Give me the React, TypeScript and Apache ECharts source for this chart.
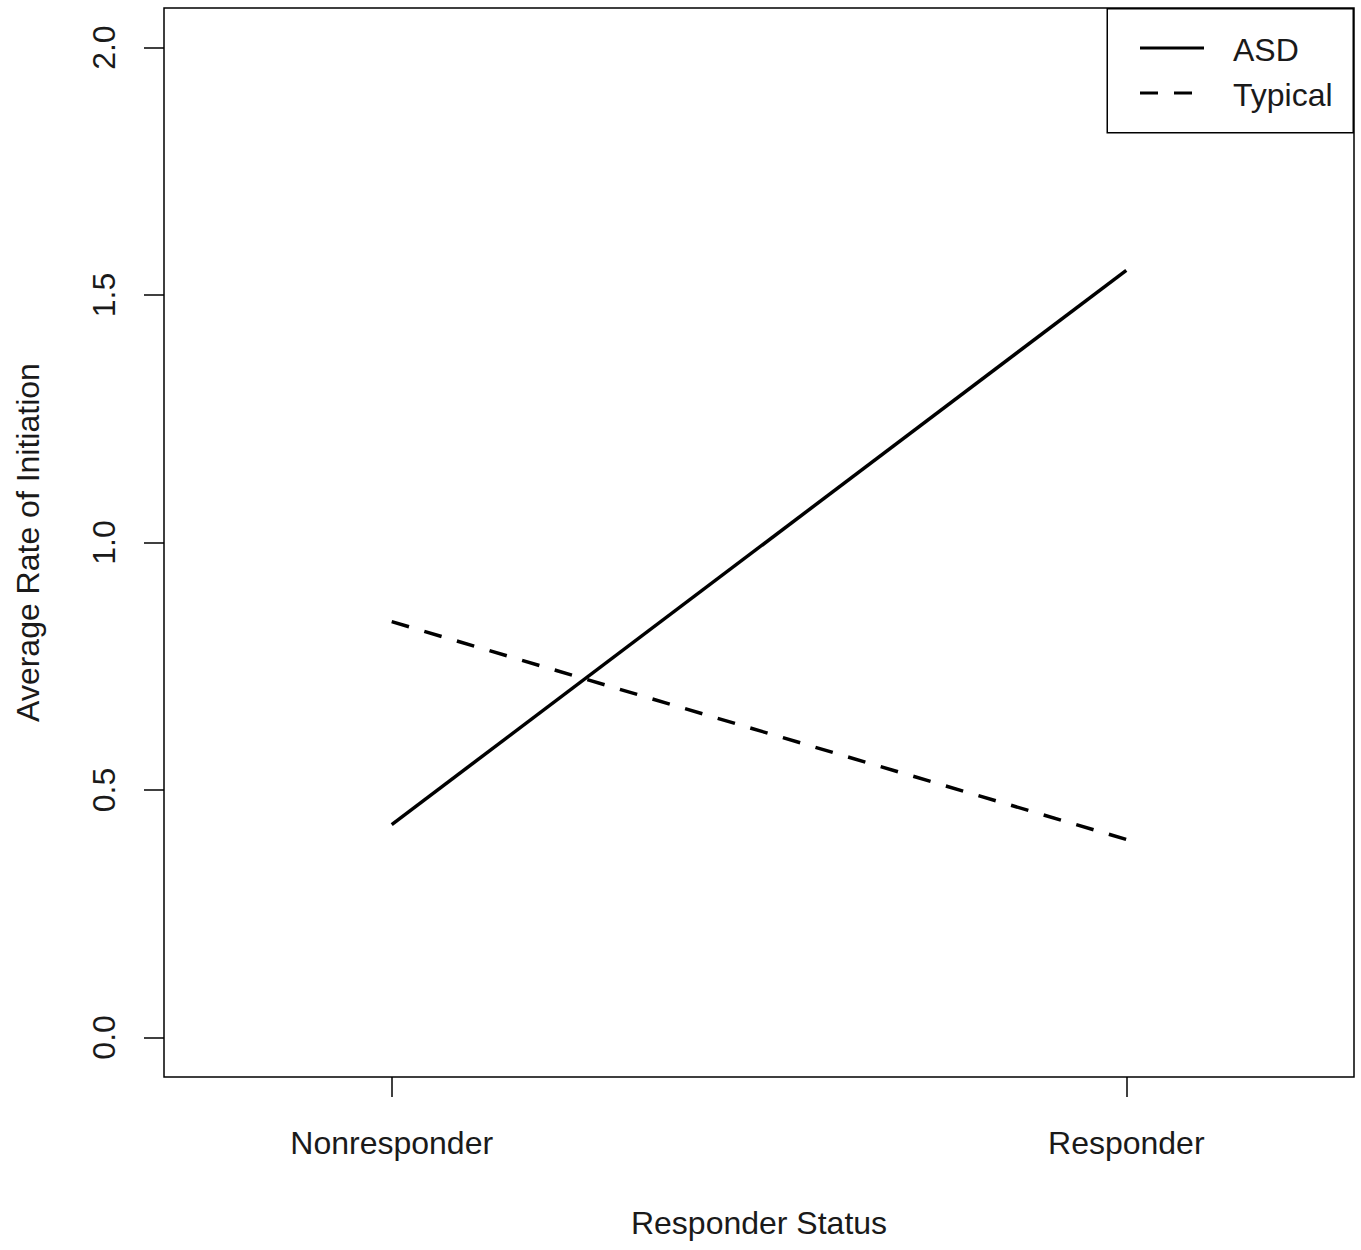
import React, { useEffect, useRef } from "react";
import * as echarts from "echarts";

const categories = ["Nonresponder", "Responder"];
const categoryPositions = [1, 2];
const asdValues = [0.43, 1.55];
const typicalValues = [0.84, 0.4];
const yTicks = [0, 0.5, 1, 1.5, 2];
const seriesNames = ["ASD", "Typical"];

const FONT = "'Liberation Sans', Arial, sans-serif";
const TEXT = "#1a1a1a";
const DASH = [18, 16];

export default function App() {
  const ref = useRef<HTMLDivElement>(null);
  useEffect(() => {
    if (!ref.current) return;
    const chart = echarts.init(ref.current, undefined, { renderer: "svg" });
    chart.setOption({
      animation: false,
      backgroundColor: "#fff",
      textStyle: { fontFamily: FONT, color: TEXT },
      grid: {
        left: 164,
        right: 7,
        top: 8,
        bottom: 173,
        show: true,
        borderColor: "#000",
        borderWidth: 1.5,
        backgroundColor: "transparent",
      },
      legend: { show: false },
      graphic: [
        {
          type: "rect",
          right: 7,
          top: 8,
          z: 10,
          shape: { width: 246, height: 124 },
          style: { fill: "#fff", stroke: "#000", lineWidth: 1.5 },
        },
        {
          type: "line",
          z: 11,
          shape: { x1: 1140, y1: 48, x2: 1204, y2: 48 },
          style: { stroke: "#000", lineWidth: 3 },
        },
        {
          type: "line",
          z: 11,
          shape: { x1: 1140, y1: 93, x2: 1204, y2: 93 },
          style: { stroke: "#000", lineWidth: 3, lineDash: DASH },
        },
        {
          type: "text",
          z: 11,
          x: 1233,
          y: 50,
          style: {
            text: seriesNames[0],
            fontSize: 32,
            fontFamily: FONT,
            fill: TEXT,
            verticalAlign: "middle",
          },
        },
        {
          type: "text",
          z: 11,
          x: 1233,
          y: 95,
          style: {
            text: seriesNames[1],
            fontSize: 32,
            fontFamily: FONT,
            fill: TEXT,
            verticalAlign: "middle",
          },
        },
      ],
      xAxis: {
        type: "value",
        min: 0.69,
        max: 2.31,
        name: "Responder Status",
        nameLocation: "middle",
        nameGap: 130,
        nameTextStyle: { fontSize: 32, color: TEXT, fontFamily: FONT },
        axisLine: { show: false, onZero: false },
        splitLine: { show: false },
        axisTick: {
          show: true,
          length: 20,
          customValues: categoryPositions,
          lineStyle: { color: "#000", width: 1.5 },
        },
        axisLabel: {
          customValues: categoryPositions,
          formatter: (v: number) => categories[categoryPositions.indexOf(v)] ?? "",
          margin: 50,
          fontSize: 32,
          color: TEXT,
          fontFamily: FONT,
        },
      },
      yAxis: {
        type: "value",
        min: -0.08,
        max: 2.08,
        name: "Average Rate of Initiation",
        nameLocation: "middle",
        nameGap: 120,
        nameTextStyle: { fontSize: 32, color: TEXT, fontFamily: FONT },
        axisLine: { show: false, onZero: false },
        splitLine: { show: false },
        axisTick: {
          show: true,
          length: 20,
          customValues: yTicks,
          lineStyle: { color: "#000", width: 1.5 },
        },
        axisLabel: {
          customValues: yTicks,
          formatter: (v: number) => v.toFixed(1),
          rotate: 90,
          margin: 44,
          fontSize: 32,
          color: TEXT,
          fontFamily: FONT,
        },
      },
      series: [
        {
          name: seriesNames[0],
          type: "line",
          symbol: "none",
          data: categoryPositions.map((x, i) => [x, asdValues[i]]),
          lineStyle: { color: "#000", width: 3.5, type: "solid" },
          itemStyle: { color: "#000" },
        },
        {
          name: seriesNames[1],
          type: "line",
          symbol: "none",
          data: categoryPositions.map((x, i) => [x, typicalValues[i]]),
          lineStyle: { color: "#000", width: 3.5, type: DASH },
          itemStyle: { color: "#000" },
        },
      ],
    });
    return () => chart.dispose();
  }, []);
  return (
    <div
      ref={ref}
      style={{ position: "absolute", left: 0, top: 0, width: 1361, height: 1250 }}
    />
  );
}
